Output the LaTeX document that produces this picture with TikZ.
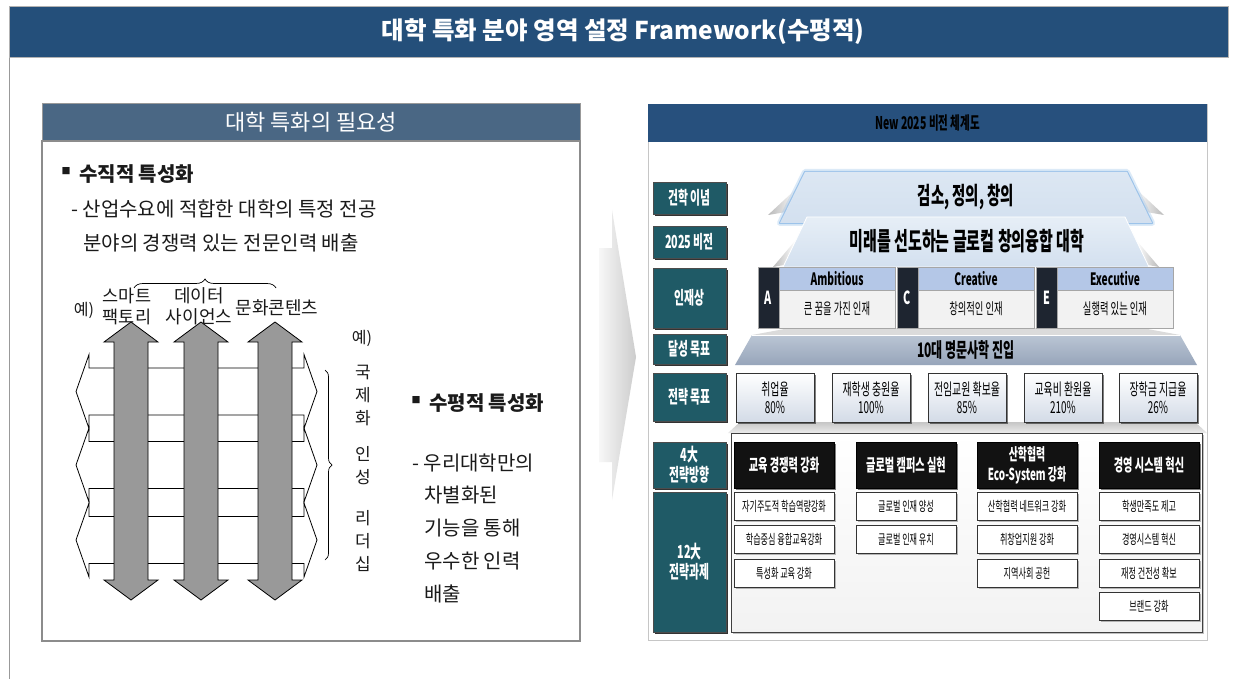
\documentclass[tikz,border=0pt]{standalone}
\usepackage{fontspec}
\setmainfont{Noto Sans CJK KR}
\newfontfamily\cond[FakeStretch=0.6]{Noto Sans CJK KR}
\usetikzlibrary{shadows,decorations.pathreplacing}
\definecolor{titleblue}{HTML}{244F7A}
\definecolor{lhead}{HTML}{4A6784}
\definecolor{rhead}{HTML}{27507D}
\definecolor{tealbox}{HTML}{1F5A66}
\definecolor{trapfill}{HTML}{DCE7F3}
\definecolor{trapfillb}{HTML}{D3E0EF}
\definecolor{glowblue}{HTML}{9CC3EA}
\definecolor{acehead}{HTML}{B4C7E7}
\definecolor{acebody}{HTML}{F2F2F2}
\definecolor{acelet}{HTML}{1E2530}
\definecolor{tentop}{HTML}{BAC5D4}
\definecolor{tenbot}{HTML}{97A5BA}
\definecolor{goalbot}{HTML}{D3DBE7}
\definecolor{txt}{HTML}{1A1A1A}
\newcommand{\fsz}[2]{\fontsize{#1}{#2}\selectfont}
\newcommand{\harr}[1]{\draw[harrowsty] (89,#1-23.5) -- (304,#1-23.5) -- (304,#1-37) -- (317,#1) -- (304,#1+37) -- (304,#1+23.5) -- (89,#1+23.5) -- (89,#1+37) -- (76,#1) -- (89,#1-37) -- cycle;}
\newcommand{\varr}[1]{\draw[varrowsty] (#1-17,342) -- (#1-27,342) -- (#1,322) -- (#1+27,342) -- (#1+17,342) -- (#1+17,580) -- (#1+27,580) -- (#1,600) -- (#1-27,580) -- (#1-17,580) -- cycle;}
\begin{document}
\begin{tikzpicture}[x=1pt,y=-1pt,
  harrowsty/.style={draw=black, fill=white, line width=0.8pt, line join=miter},
  varrowsty/.style={draw=black, fill=black!40, line width=0.8pt, line join=miter},
  ltext/.style={anchor=west, inner sep=0pt, text=txt, font=\fsz{20}{22}},
  lhd/.style={anchor=west, inner sep=0pt, text=txt, font=\bfseries\fsz{20}{22}},
  smalltxt/.style={inner sep=0pt, text=txt, align=center, font=\fsz{18}{21}},
  bul/.style={inner sep=0pt, text=txt, font=\fsz{9}{10}},
  lblbox/.style={fill=tealbox, draw=black!70, line width=0.6pt, minimum width=73pt, inner sep=0pt,
     text=white, align=center, font=\cond\bfseries\fsz{18}{20},
     drop shadow={shadow xshift=2pt, shadow yshift=-2pt, opacity=0.8, fill=black}},
  aceletter/.style={fill=acelet, draw=gray!70, line width=0.5pt, minimum width=21pt, minimum height=61pt,
     inner sep=0pt, text=white, font=\cond\bfseries\fsz{18}{20}},
  acehd/.style={fill=acehead, draw=gray!70, line width=0.5pt, minimum width=116pt, minimum height=23pt,
     inner sep=0pt, text=black, font=\cond\bfseries\fsz{17}{19}},
  acebd/.style={fill=acebody, draw=gray!70, line width=0.5pt, minimum width=116pt, minimum height=38pt,
     inner sep=0pt, text=black, font=\cond\fsz{15.5}{18}},
  goalbox/.style={top color=white, bottom color=goalbot, draw=black!80, line width=1pt,
     minimum width=78pt, minimum height=49pt, inner sep=0pt, align=center, text=black,
     font=\cond\fsz{16.5}{18},
     drop shadow={shadow xshift=1.5pt, shadow yshift=-1.5pt, opacity=0.5, fill=black}},
  dirbox/.style={fill=black!93, draw=black, minimum width=100pt, minimum height=46pt, inner sep=0pt,
     align=center, text=white, font=\cond\bfseries\fsz{17}{20},
     drop shadow={shadow xshift=1.5pt, shadow yshift=-1.5pt, opacity=0.5, fill=black}},
  subbox/.style={fill=white, draw=black!80, line width=0.8pt, minimum width=100pt, minimum height=28pt,
     inner sep=0pt, text=black, font=\cond\fsz{13.5}{15},
     drop shadow={shadow xshift=1.5pt, shadow yshift=-1.5pt, opacity=0.55, fill=gray}},
  wing/.style={left color=gray!55, right color=white}
]
\useasboundingbox (0,0) rectangle (1234,679);
\fill[white] (0,0) rectangle (1234,679);
% ---------- frame and title
\draw[gray!80, line width=1pt] (9,57) -- (9,679);
\node[fill=titleblue, draw=gray!60, line width=0.8pt, minimum width=1219pt, minimum height=51pt, inner sep=0pt] (titlebar) at (618.5,31.5) {};
\node[inner sep=0pt, text=white, font=\bfseries\fsz{24.5}{28}] (titletext) at (623,31.5) {대학 특화 분야 영역 설정 Framework(수평적)};
% ---------- left panel
\node[fill=lhead, draw=gray!80, line width=0.8pt, minimum width=538pt, minimum height=38pt, inner sep=0pt,
  text=white, font=\fsz{22}{24}] (lhd) at (311,122) {대학 특화의 필요성};
\node[draw=gray!90, line width=1.3pt, minimum width=538pt, minimum height=500pt, inner sep=0pt] (lbox) at (311,391) {};
\node[bul] (b1) at (66,171) {■};
\node[lhd] (v1) at (79,174) {수직적 특성화};
\node[ltext] (v2) at (71,209) {- 산업수요에 적합한 대학의 특정 전공};
\node[ltext] (v3) at (83,243) {분야의 경쟁력 있는 전문인력 배출};
% horizontal arrows
\harr{391.5}
\harr{465}
\harr{540}
% vertical arrows
\varr{131}
\varr{201}
\varr{275}
% braces
\coordinate (brA) at (134,288);
\coordinate (brB) at (276,288);
\draw[decorate, decoration={brace, amplitude=9pt}, line width=0.7pt] (brA) -- (brB);
\coordinate (brC) at (325,370);
\coordinate (brD) at (325,560);
\draw[decorate, decoration={brace, amplitude=7pt}, line width=0.7pt] (brC) -- (brD);
\node[smalltxt, font=\fsz{16}{18}] (ex1) at (84,310) {예)};
\node[smalltxt, font=\fsz{17.5}{21}] (f1) at (127,306) {스마트\\팩토리};
\node[smalltxt] (f2) at (199,306) {데이터\\사이언스};
\node[smalltxt] (f3) at (277,308) {문화콘텐츠};
\node[smalltxt, font=\fsz{16}{18}] (ex2) at (362,338) {예)};
\node[smalltxt, font=\fsz{17}{20}] (c1) at (363,372) {국};
\node[smalltxt, font=\fsz{17}{20}] (c2) at (363,395) {제};
\node[smalltxt, font=\fsz{17}{20}] (c3) at (363,418) {화};
\node[smalltxt, font=\fsz{17}{20}] (c4) at (363,454) {인};
\node[smalltxt, font=\fsz{17}{20}] (c5) at (363,477) {성};
\node[smalltxt, font=\fsz{17}{20}] (c6) at (363,518) {리};
\node[smalltxt, font=\fsz{17}{20}] (c7) at (363,541) {더};
\node[smalltxt, font=\fsz{17}{20}] (c8) at (363,564) {십};
\node[bul] (b2) at (416,400) {■};
\node[lhd] (h1) at (429,403) {수평적 특성화};
\node[ltext] (h2) at (412,463) {- 우리대학만의};
\node[ltext] (h3) at (424,495) {차별화된};
\node[ltext] (h4) at (424,528) {기능을 통해};
\node[ltext] (h5) at (424,561) {우수한 인력};
\node[ltext] (h6) at (424,594) {배출};
% ---------- chevron
\shade[left color=gray!6, right color=gray!40] (599,248) -- (612,248) -- (612,210) -- (636,357) -- (612,500) -- (612,462) -- (599,462) -- cycle;
% ---------- right panel
\node[draw=gray!45, fill=white, line width=0.8pt, minimum width=559pt, minimum height=536pt, inner sep=0pt] (rp) at (927.5,372) {};
\node[fill=rhead, minimum width=559pt, minimum height=38pt, inner sep=0pt, text=black,
  font=\cond\bfseries\fsz{17.5}{20}] (rh) at (927.5,123) {New 2025 비전 체계도};
% labels
\node[lblbox, minimum height=32pt] (L1) at (689.5,198) {건학 이념};
\node[lblbox, minimum height=32pt] (L2) at (689.5,242) {2025 비전};
\node[lblbox, minimum height=60pt] (L3) at (689.5,298) {인재상};
\node[lblbox, minimum height=30pt] (L4) at (689.5,349) {달성 목표};
\node[lblbox, minimum height=48pt] (L5) at (689.5,397) {전략 목표};
\node[lblbox, minimum height=46pt] (L6) at (689.5,465) {4大\\전략방향};
\node[lblbox, minimum height=140pt] (L7) at (689.5,562) {12大\\전략과제};
% wings
\shade[wing] (768,215) -- (797,188) -- (786,212) -- cycle;
\shade[wing, left color=white, right color=gray!55] (1164,215) -- (1135,188) -- (1146,212) -- cycle;
\shade[wing] (773,267) -- (795,241) -- (784,265) -- cycle;
\shade[wing, left color=white, right color=gray!55] (1159,267) -- (1137,241) -- (1148,265) -- cycle;
% trapezoid 1
\draw[glowblue, opacity=0.35, line width=6pt, line join=round] (805,172) -- (1127,172) -- (1152,223) -- (780,223) -- cycle;
\draw[glowblue, line width=2.2pt, line join=round] (805,172) -- (1127,172) -- (1152,223) -- (780,223) -- cycle;
\shade[top color=trapfill, bottom color=trapfillb] (805,172) -- (1127,172) -- (1152,223) -- (780,223) -- cycle;
\node[inner sep=0pt, text=black, font=\cond\bfseries\fsz{24}{26}] (tp1) at (966,197) {검소, 정의, 창의};
% trapezoid 2
\shade[top color=trapfill!70!white, bottom color=trapfillb, draw=white, line width=0.8pt] (807,217) -- (1125,217) -- (1149,267) -- (783,267) -- cycle;
\node[inner sep=0pt, text=black, font=\cond\bfseries\fsz{25}{27}] (tp2) at (967,241) {미래를 선도하는 글로컬 창의융합 대학};
% bevel behind ACE and 10 trapezoid
\fill[gray!28] (790,328) -- (1142,328) -- (1180,335) -- (752,335) -- cycle;
% ACE
\node[aceletter] (aL) at (768.5,297.5) {A};
\node[acehd] (aH) at (837,278.5) {Ambitious};
\node[acebd] (aB) at (837,309) {큰 꿈을 가진 인재};
\node[aceletter] (cL) at (907.5,297.5) {C};
\node[acehd] (cH) at (976,278.5) {Creative};
\node[acebd] (cB) at (976,309) {창의적인 인재};
\node[aceletter] (eL) at (1046.5,297.5) {E};
\node[acehd] (eH) at (1115,278.5) {Executive};
\node[acebd] (eB) at (1115,309) {실행력 있는 인재};
% 10 trapezoid
\shade[top color=tentop, bottom color=tenbot] (752,335) -- (1180,335) -- (1197,365) -- (735,365) -- cycle;
\draw[white, line width=0.6pt] (752,335) -- (1180,335);
\node[inner sep=0pt, text=black, font=\cond\bfseries\fsz{20}{22}] (tp3) at (966,350) {10대 명문사학 진입};
% base band
\shade[top color=gray!45, bottom color=gray!15] (740,422) -- (1195,422) -- (1207,433) -- (728,433) -- cycle;
% goals
\node[goalbox] (g1) at (775,397.5) {취업율\\80\%};
\node[goalbox] (g2) at (871,397.5) {재학생 충원율\\100\%};
\node[goalbox] (g3) at (967,397.5) {전임교원 확보율\\85\%};
\node[goalbox] (g4) at (1063,397.5) {교육비 환원율\\210\%};
\node[goalbox] (g5) at (1158,397.5) {장학금 지급율\\26\%};
% big box
\node[draw=black!75, line width=0.8pt, top color=white, bottom color=gray!10, minimum width=471pt, minimum height=199pt, inner sep=0pt,
  drop shadow={shadow xshift=1.5pt, shadow yshift=-1.5pt, opacity=0.5, fill=gray}] (bb) at (966.5,532.5) {};
% directions
\node[dirbox] (d1) at (784,465) {교육 경쟁력 강화};
\node[dirbox] (d2) at (906,465) {글로벌 캠퍼스 실현};
\node[dirbox, font=\cond\bfseries\fsz{16.5}{20}] (d3) at (1027,465) {산학협력\\Eco-System 강화};
\node[dirbox] (d4) at (1149,465) {경영 시스템 혁신};
% tasks
\node[subbox] (s11) at (784,506) {자기주도적 학습역량강화};
\node[subbox] (s12) at (784,539) {학습중심 융합교육강화};
\node[subbox] (s13) at (784,573) {특성화 교육 강화};
\node[subbox] (s21) at (906,506) {글로벌 인재 양성};
\node[subbox] (s22) at (906,539) {글로벌 인재 유치};
\node[subbox] (s31) at (1027,506) {산학협력 네트워크 강화};
\node[subbox] (s32) at (1027,539) {취창업지원 강화};
\node[subbox] (s33) at (1027,573) {지역사회 공헌};
\node[subbox] (s41) at (1149,506) {학생만족도 제고};
\node[subbox] (s42) at (1149,539) {경영시스템 혁신};
\node[subbox] (s43) at (1149,573) {재정 건전성 확보};
\node[subbox] (s44) at (1149,606) {브랜드 강화};
\end{tikzpicture}
\end{document}
